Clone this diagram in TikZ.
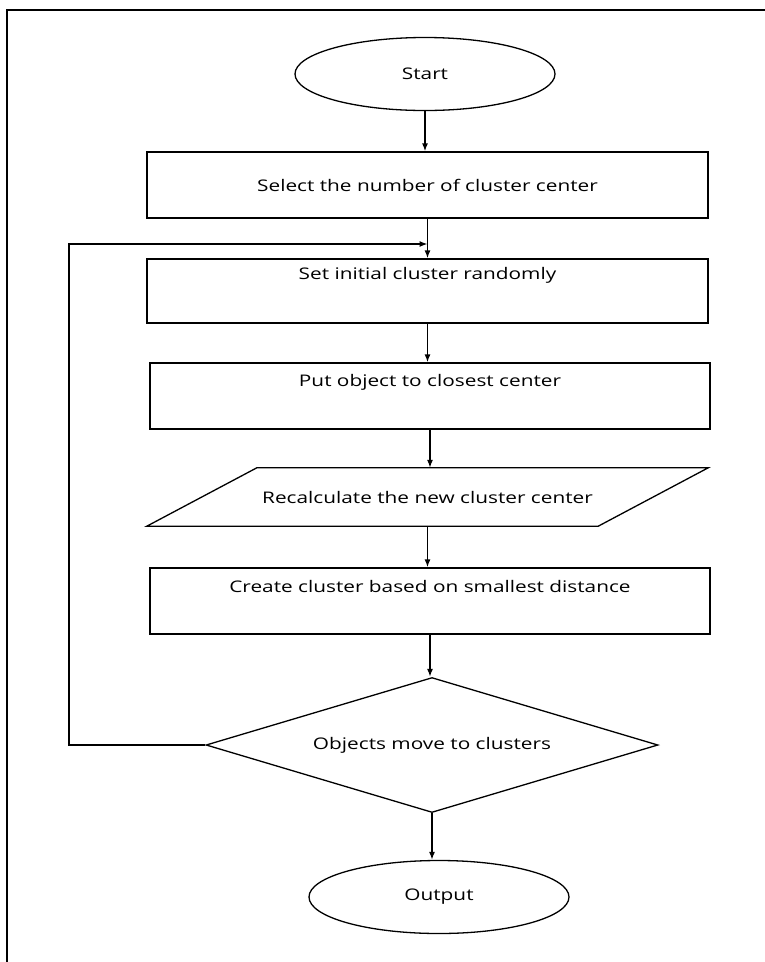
\documentclass[tikz,border=0pt]{standalone}
\usepackage{fontspec}
\setmainfont{Open Sans}[FakeStretch=1.3]
\usetikzlibrary{shapes.geometric,arrows.meta,calc}
\begin{document}
\begin{tikzpicture}[x=1pt,y=-1pt,
  every node/.style={font=\fontsize{16}{19}\selectfont},
  ln/.style={line width=1.3pt, draw=black},
  arr/.style={ln, -{Latex[length=8pt,width=6pt]}},
  box/.style={ln, rectangle, inner sep=0pt},
  term/.style={ln, ellipse, inner sep=0pt},
]
\useasboundingbox (0,0) rectangle (765,962);
\fill[white] (0,0) rectangle (765,962);
\draw[ln] (7,962) -- (7,10) -- (765,10);

\node[term, minimum width=260pt, minimum height=73pt] (start) at (425,74) {Start};
\node[box, minimum width=561pt, minimum height=66pt] (b1) at (427.5,185) {Select the number of cluster center};
\node[box, minimum width=561pt, minimum height=64pt,
  label={[anchor=center, yshift=-17pt]north:Set initial cluster randomly}] (b2) at (427.5,291) {};
\node[box, minimum width=560pt, minimum height=66pt,
  label={[anchor=center, yshift=-20pt]north:Put object to closest center}] (b3) at (430,396) {};
\node[draw=none, minimum width=451pt, minimum height=58pt, inner sep=0pt] (pg) at (427.5,497) {Recalculate the new cluster center};
\draw[ln] ($(pg.north west)+(55,0)$) -- ($(pg.north east)+(55,0)$) -- ($(pg.south east)+(-55,0)$) -- ($(pg.south west)+(-55,0)$) -- cycle;
\node[box, minimum width=560pt, minimum height=66pt,
  label={[anchor=center, yshift=-19pt]north:Create cluster based on smallest distance}] (b4) at (430,601) {};
\node[ln, diamond, minimum width=452pt, minimum height=135pt, aspect=3.35, inner sep=0pt] (dia) at (432,745) {Objects move to clusters};
\node[term, minimum width=260pt, minimum height=73pt] (out) at (439,897) {Output};

\draw[arr] (start.south) -- (start.south |- b1.north);
\draw[arr] (b1.south) -- (b1.south |- b2.north);
\draw[arr] (b2.south) -- (b2.south |- b3.north);
\draw[arr] (b3.south) -- (b3.south |- pg.north);
\draw[arr] (pg.south) -- (pg.south |- b4.north);
\draw[arr] (b4.south) -- (b4.south |- dia.north);
\draw[arr] (dia.south) -- (dia.south |- out.north);

\coordinate (jy) at (0,244);
\coordinate (j) at (b1.south |- jy);
\draw[arr] (dia.west) -| (69,244) -- (j);
\end{tikzpicture}
\end{document}
